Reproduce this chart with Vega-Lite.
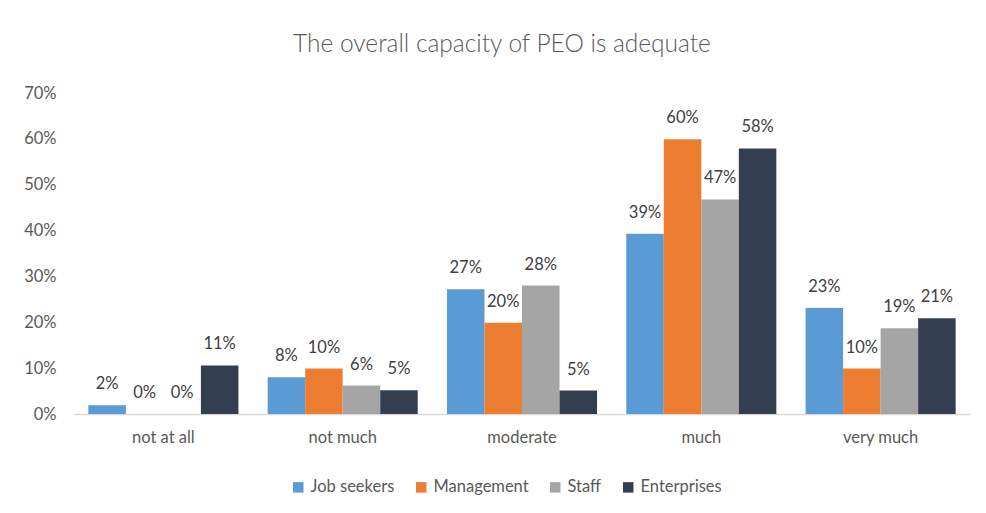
{
  "$schema": "https://vega.github.io/schema/vega-lite/v6.json",
  "autosize": "none",
  "width": 896,
  "height": 321,
  "padding": {"left": 74, "top": 93, "right": 16, "bottom": 99},
  "background": "white",
  "config": {
    "font": "Lato",
    "view": {"stroke": null}
  },
  "title": {
    "text": "The overall capacity of PEO is adequate",
    "fontSize": 24.5,
    "fontWeight": 300,
    "color": "#595959",
    "anchor": "middle",
    "dx": -20,
    "offset": 28
  },
  "data": {
    "values": [
      {"level": "not at all", "group": "Job seekers", "value": 0.019},
      {"level": "not at all", "group": "Management", "value": 0.0},
      {"level": "not at all", "group": "Staff", "value": 0.0},
      {"level": "not at all", "group": "Enterprises", "value": 0.106},
      {"level": "not much", "group": "Job seekers", "value": 0.080},
      {"level": "not much", "group": "Management", "value": 0.099},
      {"level": "not much", "group": "Staff", "value": 0.062},
      {"level": "not much", "group": "Enterprises", "value": 0.052},
      {"level": "moderate", "group": "Job seekers", "value": 0.272},
      {"level": "moderate", "group": "Management", "value": 0.199},
      {"level": "moderate", "group": "Staff", "value": 0.280},
      {"level": "moderate", "group": "Enterprises", "value": 0.051},
      {"level": "much", "group": "Job seekers", "value": 0.393},
      {"level": "much", "group": "Management", "value": 0.599},
      {"level": "much", "group": "Staff", "value": 0.468},
      {"level": "much", "group": "Enterprises", "value": 0.579},
      {"level": "very much", "group": "Job seekers", "value": 0.231},
      {"level": "very much", "group": "Management", "value": 0.099},
      {"level": "very much", "group": "Staff", "value": 0.187},
      {"level": "very much", "group": "Enterprises", "value": 0.209}
    ]
  },
  "encoding": {
    "x": {
      "field": "level",
      "type": "nominal",
      "sort": ["not at all", "not much", "moderate", "much", "very much"],
      "scale": {"paddingInner": 0.163, "paddingOuter": 0.08},
      "axis": {
        "title": null,
        "labelAngle": 0,
        "labelFontSize": 16.5,
        "labelColor": "#595959",
        "labelPadding": 15,
        "ticks": false,
        "domainColor": "#d9d9d9",
        "domainWidth": 1.5,
        "grid": false
      }
    },
    "xOffset": {
      "field": "group",
      "type": "nominal",
      "sort": ["Job seekers", "Management", "Staff", "Enterprises"]
    },
    "y": {
      "field": "value",
      "type": "quantitative",
      "scale": {"domain": [0, 0.7], "nice": false},
      "axis": {
        "title": null,
        "format": ".0%",
        "values": [0, 0.1, 0.2, 0.3, 0.4, 0.5, 0.6, 0.7],
        "labelFontSize": 16.5,
        "labelColor": "#595959",
        "labelPadding": 18,
        "ticks": false,
        "domain": false,
        "grid": false
      }
    }
  },
  "layer": [
    {
      "mark": {"type": "bar"},
      "encoding": {
        "color": {
          "field": "group",
          "type": "nominal",
          "sort": ["Job seekers", "Management", "Staff", "Enterprises"],
          "scale": {
            "domain": ["Job seekers", "Management", "Staff", "Enterprises"],
            "range": ["#5B9BD5", "#ED7D31", "#A5A5A5", "#333F50"]
          },
          "legend": {
            "title": null,
            "orient": "none",
            "direction": "horizontal",
            "legendX": 216,
            "legendY": 386,
            "symbolType": "square",
            "symbolSize": 110,
            "symbolStrokeWidth": 0,
            "labelFontSize": 16.5,
            "labelColor": "#595959",
            "columnPadding": 18,
            "labelOffset": 4
          }
        }
      }
    },
    {
      "mark": {"type": "text", "baseline": "middle", "dy": -21, "fontSize": 16.5, "color": "#404040"},
      "encoding": {
        "text": {"field": "value", "type": "quantitative", "format": ".0%"}
      }
    }
  ]
}
